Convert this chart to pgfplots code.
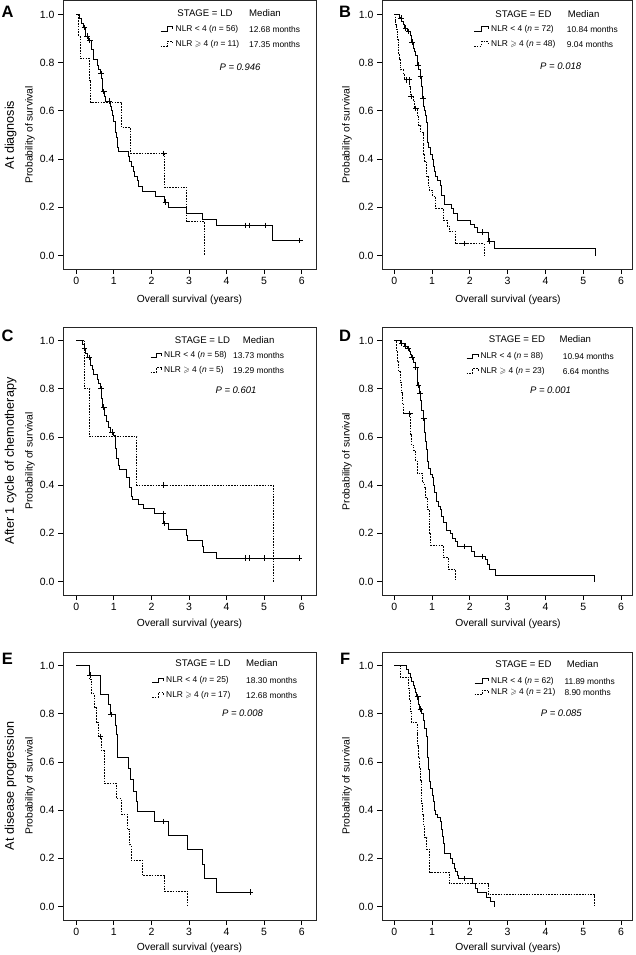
\documentclass[border=0pt]{standalone}
\usepackage{fontspec}
\setmainfont{Liberation Sans}
\usepackage{amssymb}
\usepackage{pgfplots}
\pgfplotsset{compat=1.18}

\tikzset{
  lsolid/.style={black, line width=0.9pt},
  ldash/.style={black, line width=0.9pt, dash pattern=on 1.6pt off 1.2pt},
}
\pgfplotsset{
  km/.style={
    scale only axis, height=268pt, anchor=south west,
    ymin=-0.056, ymax=1.056,
    xtick={0,1,2,3,4,5,6}, ytick={0,0.2,0.4,0.6,0.8,1},
    tick align=outside, tick pos=left,
    major tick length=5pt,
    axis line style={line width=1pt, black!85},
    every tick/.style={line width=0.8pt, black},
    yticklabel style={/pgf/number format/fixed, /pgf/number format/fixed zerofill, /pgf/number format/precision=1},
    /pgf/number format/assume math mode=true,
    tick label style={font=\fontsize{10.5}{12}\selectfont},
  },
  kmleft/.style={km, width=253pt, xmin=-0.354, xmax=6.38},
  kmright/.style={km, width=250pt, xmin=-0.325, xmax=6.29},
  solidkm/.style={const plot, lsolid, no marks},
  dashkm/.style={const plot, ldash, no marks},
  censor/.style={only marks, mark=+, mark size=2.8pt, black, mark options={line width=0.7pt, solid}},
}
\newcommand{\sample}[4]{\draw[#4] (#1,{-#3-2}) -- ({#1+0.55*(#2-#1)},{-#3-2}) -- ({#1+0.55*(#2-#1)},{-#3+2.5}) -- (#2,{-#3+2.5}) -- (#2,{-#3});}
\newcommand{\stagefont}{\fontsize{9.6}{11}\selectfont}
\newcommand{\legfont}{\fontsize{8.4}{10}\selectfont}
\newcommand{\pfont}{\fontsize{9.5}{11}\selectfont}
\newcommand{\ylabfont}{\fontsize{10.3}{12}\selectfont}
\newcommand{\outfont}{\fontsize{12.6}{14}\selectfont}
\newcommand{\panfont}{\fontsize{16.5}{18}\selectfont\bfseries}

\begin{document}
\begin{tikzpicture}
\path[use as bounding box] (0,0) rectangle (636pt,-955pt);

% ---------------- Panel A ----------------
\begin{axis}[kmleft, at={(63pt,-269pt)}]
\addplot[solidkm] coordinates {(0,1) (0.08,0.982) (0.13,0.964) (0.18,0.946) (0.25,0.91) (0.32,0.892) (0.4,0.856) (0.45,0.815) (0.55,0.79) (0.6,0.77) (0.65,0.755) (0.68,0.735) (0.7,0.68) (0.75,0.66) (0.78,0.64) (0.92,0.62) (0.94,0.60) (0.96,0.58) (0.98,0.555) (1.05,0.51) (1.08,0.49) (1.1,0.45) (1.12,0.43) (1.38,0.41) (1.42,0.39) (1.46,0.37) (1.52,0.35) (1.56,0.33) (1.62,0.31) (1.65,0.287) (1.76,0.266) (2.1,0.244) (2.35,0.222) (2.45,0.2) (2.94,0.176) (3.36,0.15) (3.74,0.125) (5.23,0.0625) (5.95,0.0625)};
\addplot[dashkm] coordinates {(0,1) (0.07,0.909) (0.1,0.818) (0.35,0.727) (0.38,0.636) (1.21,0.53) (1.45,0.424) (2.35,0.283) (2.94,0.141) (3.41,0)};
\addplot[censor] coordinates {(0.22,0.946) (0.29,0.91) (0.36,0.892) (0.66,0.755) (0.73,0.68) (0.88,0.64) (2.37,0.222) (4.49,0.125) (4.61,0.125) (5.02,0.125) (5.95,0.0625) (2.33,0.424)};
\end{axis}

% ---------------- Panel B ----------------
\begin{axis}[kmright, at={(382pt,-269pt)}]
\addplot[solidkm] coordinates {(0,1) (0.13,0.986) (0.2,0.972) (0.24,0.958) (0.27,0.944) (0.36,0.93) (0.43,0.915) (0.46,0.885) (0.5,0.86) (0.53,0.845) (0.56,0.83) (0.6,0.81) (0.62,0.79) (0.65,0.77) (0.68,0.745) (0.72,0.70) (0.75,0.65) (0.78,0.62) (0.8,0.6) (0.82,0.58) (0.85,0.55) (0.87,0.51) (0.89,0.47) (0.91,0.45) (0.95,0.42) (1.0,0.40) (1.03,0.37) (1.07,0.35) (1.1,0.33) (1.15,0.31) (1.21,0.29) (1.26,0.25) (1.32,0.21) (1.5,0.195) (1.57,0.175) (1.66,0.146) (2.02,0.13) (2.12,0.115) (2.19,0.097) (2.5,0.06) (2.66,0.028) (5.32,0)};
\addplot[dashkm] coordinates {(0,1) (0.02,0.979) (0.04,0.958) (0.06,0.938) (0.08,0.917) (0.09,0.896) (0.1,0.875) (0.11,0.854) (0.12,0.833) (0.13,0.812) (0.15,0.79) (0.17,0.77) (0.24,0.75) (0.26,0.729) (0.41,0.70) (0.42,0.66) (0.5,0.64) (0.54,0.61) (0.6,0.58) (0.65,0.54) (0.7,0.51) (0.76,0.46) (0.78,0.42) (0.81,0.39) (0.85,0.33) (0.9,0.29) (0.93,0.27) (1.02,0.245) (1.1,0.195) (1.3,0.146) (1.4,0.122) (1.45,0.1) (1.61,0.049) (2.38,0)};
\addplot[censor] coordinates {(0.18,0.986) (0.3,0.944) (0.38,0.93) (0.47,0.885) (0.63,0.79) (0.69,0.745) (0.76,0.65) (2.34,0.097) (2.52,0.06) (0.33,0.729) (0.4,0.729) (0.45,0.66) (0.57,0.61) (1.85,0.049)};
\end{axis}

% ---------------- Panel C ----------------
\begin{axis}[kmleft, at={(63pt,-595pt)}]
\addplot[solidkm] coordinates {(0,1) (0.17,0.983) (0.21,0.966) (0.25,0.948) (0.3,0.93) (0.38,0.897) (0.42,0.878) (0.45,0.858) (0.55,0.84) (0.6,0.82) (0.65,0.80) (0.68,0.76) (0.7,0.724) (0.76,0.69) (0.8,0.665) (0.85,0.64) (0.9,0.62) (0.985,0.604) (1.05,0.551) (1.08,0.51) (1.12,0.48) (1.15,0.465) (1.34,0.43) (1.42,0.39) (1.46,0.355) (1.5,0.34) (1.65,0.32) (1.78,0.302) (2.09,0.283) (2.33,0.24) (2.45,0.218) (2.94,0.193) (2.97,0.169) (3.35,0.145) (3.38,0.121) (3.74,0.097) (5.93,0.097)};
\addplot[dashkm] coordinates {(0,1) (0.22,0.8) (0.36,0.6) (1.61,0.4) (5.24,0)};
\addplot[censor] coordinates {(0.22,0.966) (0.34,0.93) (0.66,0.80) (0.73,0.724) (0.95,0.62) (2.32,0.283) (2.35,0.24) (4.49,0.097) (4.61,0.097) (5.01,0.097) (5.93,0.097) (2.33,0.4)};
\end{axis}

% ---------------- Panel D ----------------
\begin{axis}[kmright, at={(382pt,-595pt)}]
\addplot[solidkm] coordinates {(0,1) (0.15,0.989) (0.27,0.977) (0.35,0.966) (0.4,0.955) (0.44,0.943) (0.46,0.93) (0.5,0.91) (0.55,0.89) (0.6,0.86) (0.62,0.815) (0.66,0.78) (0.7,0.75) (0.73,0.71) (0.76,0.676) (0.8,0.62) (0.82,0.58) (0.85,0.55) (0.88,0.5) (0.9,0.47) (0.97,0.444) (1.0,0.43) (1.03,0.40) (1.06,0.37) (1.12,0.333) (1.18,0.31) (1.23,0.30) (1.26,0.27) (1.3,0.246) (1.38,0.212) (1.49,0.20) (1.55,0.18) (1.61,0.165) (1.66,0.146) (2.05,0.125) (2.13,0.104) (2.4,0.09) (2.47,0.07) (2.52,0.05) (2.68,0.025) (5.3,0)};
\addplot[dashkm] coordinates {(0,1) (0.05,0.957) (0.08,0.913) (0.12,0.87) (0.15,0.826) (0.18,0.783) (0.21,0.739) (0.25,0.696) (0.43,0.609) (0.46,0.565) (0.52,0.545) (0.56,0.50) (0.6,0.45) (0.75,0.41) (0.8,0.39) (0.83,0.35) (0.87,0.3) (0.92,0.25) (0.94,0.2) (0.97,0.15) (1.3,0.1) (1.43,0.05) (1.62,0)};
\addplot[censor] coordinates {(0.2,0.989) (0.3,0.977) (0.37,0.966) (0.47,0.93) (0.57,0.89) (0.64,0.815) (0.68,0.78) (0.78,0.676) (1.85,0.146) (2.33,0.104) (0.41,0.696)};
\end{axis}

% ---------------- Panel E ----------------
\begin{axis}[kmleft, at={(63pt,-920pt)}]
\addplot[solidkm] coordinates {(0,1) (0.345,0.96) (0.655,0.88) (0.85,0.84) (0.91,0.796) (1.03,0.75) (1.08,0.713) (1.1,0.62) (1.38,0.571) (1.43,0.529) (1.53,0.478) (1.59,0.436) (1.63,0.396) (2.07,0.352) (2.44,0.294) (2.95,0.235) (3.35,0.176) (3.4,0.118) (3.73,0.059) (4.63,0.059)};
\addplot[dashkm] coordinates {(0,1) (0.35,0.941) (0.41,0.882) (0.48,0.824) (0.54,0.765) (0.6,0.706) (0.67,0.647) (0.74,0.512) (1.07,0.448) (1.2,0.384) (1.35,0.32) (1.42,0.256) (1.46,0.192) (1.76,0.128) (2.34,0.064) (2.95,0)};
\addplot[censor] coordinates {(0.37,0.96) (0.93,0.796) (2.33,0.352) (4.63,0.059) (0.64,0.706)};
\end{axis}

% ---------------- Panel F ----------------
\begin{axis}[kmright, at={(382pt,-920pt)}]
\addplot[solidkm] coordinates {(0,1) (0.33,0.984) (0.37,0.968) (0.42,0.952) (0.46,0.935) (0.5,0.919) (0.53,0.903) (0.56,0.887) (0.59,0.87) (0.65,0.84) (0.67,0.82) (0.72,0.80) (0.77,0.77) (0.8,0.74) (0.85,0.704) (0.87,0.66) (0.89,0.62) (0.9,0.57) (0.92,0.52) (0.96,0.49) (1.0,0.46) (1.03,0.437) (1.07,0.40) (1.1,0.38) (1.13,0.368) (1.21,0.354) (1.25,0.32) (1.28,0.29) (1.31,0.26) (1.34,0.222) (1.49,0.2) (1.55,0.18) (1.58,0.16) (1.62,0.145) (1.66,0.13) (1.7,0.116) (2.08,0.097) (2.15,0.077) (2.2,0.058) (2.44,0.039) (2.55,0.019) (2.65,0)};
\addplot[dashkm] coordinates {(0,1) (0.16,0.952) (0.38,0.905) (0.4,0.857) (0.42,0.81) (0.45,0.762) (0.6,0.714) (0.62,0.667) (0.65,0.619) (0.67,0.571) (0.7,0.524) (0.72,0.476) (0.73,0.429) (0.75,0.381) (0.78,0.333) (0.8,0.286) (0.86,0.238) (0.94,0.143) (1.45,0.095) (2.49,0.048) (5.3,0)};
\addplot[censor] coordinates {(0.62,0.87) (0.69,0.82) (1.85,0.116)};
\end{axis}

% ---------------- Outer labels ----------------
\node[font=\panfont] at (7.5pt,-12.2pt) {A};
\node[font=\panfont] at (345.2pt,-12.2pt) {B};
\node[font=\panfont] at (7.5pt,-336pt) {C};
\node[font=\panfont] at (345.2pt,-335.5pt) {D};
\node[font=\panfont] at (7.5pt,-659.2pt) {E};
\node[font=\panfont] at (345.2pt,-659.2pt) {F};

\node[rotate=90, font=\outfont] at (10.5pt,-135pt) {At diagnosis};
\node[rotate=90, font=\outfont] at (10.5pt,-461pt) {After 1 cycle of chemotherapy};
\node[rotate=90, font=\outfont] at (10.5pt,-786pt) {At disease progression};

\node[rotate=90, font=\ylabfont] at (30pt,-135pt) {Probability of survival};
\node[rotate=90, font=\ylabfont] at (347pt,-135pt) {Probability of survival};
\node[rotate=90, font=\ylabfont] at (30pt,-461pt) {Probability of survival};
\node[rotate=90, font=\ylabfont] at (347pt,-461.5pt) {Probability of survival};
\node[rotate=90, font=\ylabfont] at (30pt,-786pt) {Probability of survival};
\node[rotate=90, font=\ylabfont] at (347pt,-786pt) {Probability of survival};

\node[font=\ylabfont] at (189.5pt,-300pt) {Overall survival (years)};
\node[font=\ylabfont] at (508pt,-300pt) {Overall survival (years)};
\node[font=\ylabfont] at (189.5pt,-623.5pt) {Overall survival (years)};
\node[font=\ylabfont] at (508pt,-623.5pt) {Overall survival (years)};
\node[font=\ylabfont] at (189.5pt,-948.3pt) {Overall survival (years)};
\node[font=\ylabfont] at (508pt,-948.3pt) {Overall survival (years)};

% ---------------- Legends ----------------
% A
\begin{scope}[x=1pt, y=1pt, shift={(63pt,-1pt)}, every node/.style={inner sep=0pt}]
\node[font=\stagefont] at (142,-12.3) {STAGE = LD};
\node[font=\stagefont, anchor=west] at (186,-12.3) {Median};
\sample{97.5}{109.5}{28.3}{lsolid}
\node[font=\legfont, anchor=west] at (112.5,-28.3) {NLR < 4 (\textit{n} = 56)};
\node[font=\legfont, anchor=west] at (186,-28.3) {12.68 months};
\sample{97.5}{109.5}{43}{ldash}
\node[font=\legfont, anchor=west] at (112.5,-43) {NLR $\geqslant$ 4 (\textit{n} = 11)};
\node[font=\legfont, anchor=west] at (186,-43) {17.35 months};
\node[font=\pfont] at (177,-66) {\textit{P = 0.946}};
\end{scope}
% B
\begin{scope}[x=1pt, y=1pt, shift={(382pt,-1pt)}, every node/.style={inner sep=0pt}]
\node[font=\stagefont] at (141.5,-13) {STAGE = ED};
\node[font=\stagefont, anchor=west] at (185.7,-13) {Median};
\sample{92}{106}{28.3}{lsolid}
\node[font=\legfont, anchor=west] at (109,-28.3) {NLR < 4 (\textit{n} = 72)};
\node[font=\legfont, anchor=west] at (184.7,-28.3) {10.84 months};
\sample{92}{106}{43}{ldash}
\node[font=\legfont, anchor=west] at (109,-43) {NLR $\geqslant$ 4 (\textit{n} = 48)};
\node[font=\legfont, anchor=west] at (184.7,-43) {9.04 months};
\node[font=\pfont] at (178.7,-65.7) {\textit{P = 0.018}};
\end{scope}
% C
\begin{scope}[x=1pt, y=1pt, shift={(63pt,-327pt)}, every node/.style={inner sep=0pt}]
\node[font=\stagefont] at (139.5,-13) {STAGE = LD};
\node[font=\stagefont, anchor=west] at (179.7,-13) {Median};
\sample{87.5}{98.5}{28.7}{lsolid}
\node[font=\legfont, anchor=west] at (101,-28.7) {NLR < 4 (\textit{n} = 58)};
\node[font=\legfont, anchor=west] at (170,-28.7) {13.73 months};
\sample{87.5}{98.5}{43}{ldash}
\node[font=\legfont, anchor=west] at (101,-43) {NLR $\geqslant$ 4 (\textit{n} = 5)};
\node[font=\legfont, anchor=west] at (170,-43) {19.29 months};
\node[font=\pfont] at (173,-63) {\textit{P = 0.601}};
\end{scope}
% D
\begin{scope}[x=1pt, y=1pt, shift={(382pt,-328pt)}, every node/.style={inner sep=0pt}]
\node[font=\stagefont] at (135,-11.3) {STAGE = ED};
\node[font=\stagefont, anchor=west] at (177.3,-11.3) {Median};
\sample{84.5}{96}{28.7}{lsolid}
\node[font=\legfont, anchor=west] at (98.3,-28.7) {NLR < 4 (\textit{n} = 88)};
\node[font=\legfont, anchor=west] at (180.7,-28.7) {10.94 months};
\sample{84.5}{96}{43}{ldash}
\node[font=\legfont, anchor=west] at (98.3,-43) {NLR $\geqslant$ 4 (\textit{n} = 23)};
\node[font=\legfont, anchor=west] at (180.7,-43) {6.64 months};
\node[font=\pfont] at (168.5,-62) {\textit{P = 0.001}};
\end{scope}
% E
\begin{scope}[x=1pt, y=1pt, shift={(63pt,-652pt)}, every node/.style={inner sep=0pt}]
\node[font=\stagefont] at (140,-11) {STAGE = LD};
\node[font=\stagefont, anchor=west] at (183,-11) {Median};
\sample{89}{100.5}{28.7}{lsolid}
\node[font=\legfont, anchor=west] at (103,-28.7) {NLR < 4 (\textit{n} = 25)};
\node[font=\legfont, anchor=west] at (183,-28.7) {18.30 months};
\sample{89}{100.5}{43}{ldash}
\node[font=\legfont, anchor=west] at (103,-43) {NLR $\geqslant$ 4 (\textit{n} = 17)};
\node[font=\legfont, anchor=west] at (183,-43) {12.68 months};
\node[font=\pfont] at (179.5,-61) {\textit{P = 0.008}};
\end{scope}
% F
\begin{scope}[x=1pt, y=1pt, shift={(382pt,-652pt)}, every node/.style={inner sep=0pt}]
\node[font=\stagefont] at (141.5,-12) {STAGE = ED};
\node[font=\stagefont, anchor=west] at (184.7,-12) {Median};
\sample{92.5}{106.5}{29}{lsolid}
\node[font=\legfont, anchor=west] at (109,-29) {NLR < 4 (\textit{n} = 62)};
\node[font=\legfont, anchor=west] at (182.3,-29) {11.89 months};
\sample{92.5}{106.5}{40.7}{ldash}
\node[font=\legfont, anchor=west] at (109,-40.7) {NLR $\geqslant$ 4 (\textit{n} = 21)};
\node[font=\legfont, anchor=west] at (182.3,-40.7) {8.90 months};
\node[font=\pfont] at (179.3,-61.3) {\textit{P = 0.085}};
\end{scope}
\end{tikzpicture}
\end{document}
